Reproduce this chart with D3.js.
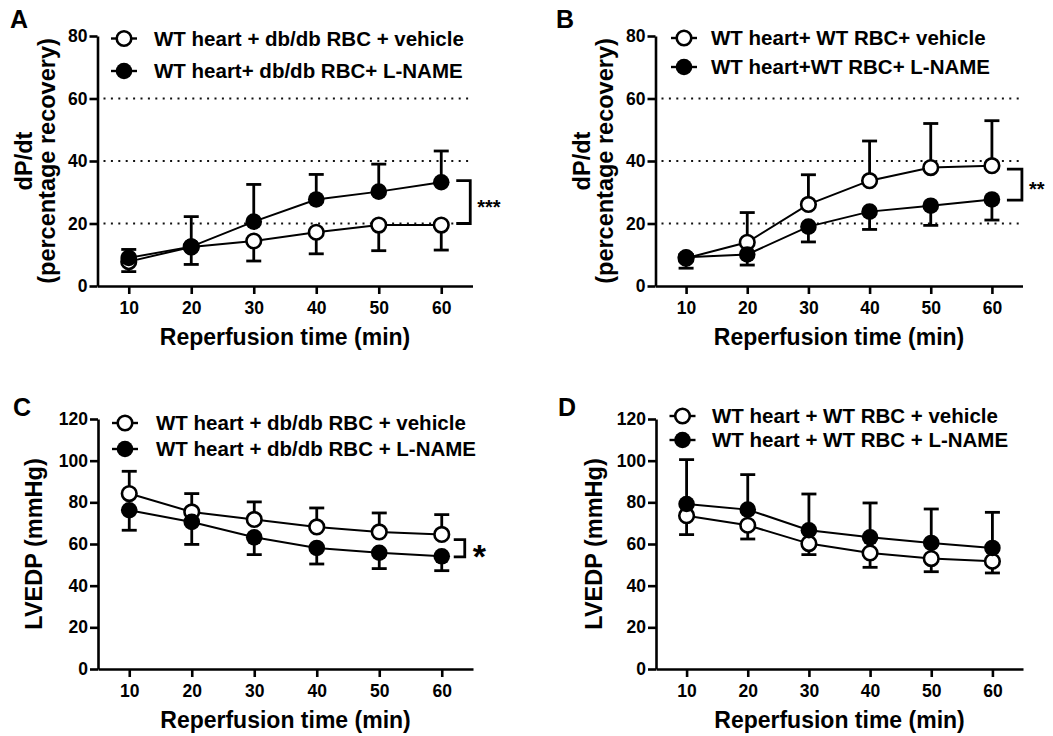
<!DOCTYPE html>
<html>
<head>
<meta charset="utf-8">
<script src="https://cdn.jsdelivr.net/npm/d3@7"></script>
<style>
  body { margin: 0; background: #fff; }
  svg text { font-family: "Liberation Sans", Arial, sans-serif; font-weight: bold; fill: #000; }
</style>
</head>
<body>
<div id="chart"></div>
<script>
// reperfusion time points (min)
const times = [10, 20, 30, 40, 50, 60];
const dpTicks = [0, 20, 40, 60, 80];
const dpGrid = [20, 40, 60];
const lvTicks = [0, 20, 40, 60, 80, 100, 120];

// A: WT heart + db/db RBC
const aVehicle    = [7.8, 12.5, 14.4, 17.2, 19.5, 19.5];
const aVehicleErr = [3.2, 5.6, 6.4, 6.9, 8.2, 8.0];
const aLname      = [9.0, 12.6, 20.6, 27.7, 30.2, 33.2];
const aLnameErr   = [2.7, 9.6, 11.9, 8.0, 8.8, 10.0];

// B: WT heart + WT RBC
const bVehicle    = [8.9, 14.0, 26.1, 33.7, 37.9, 38.5];
const bVehicleErr = [1.2, 9.5, 9.5, 12.7, 14.1, 14.4];
const bLname      = [9.2, 10.1, 19.0, 23.8, 25.7, 27.7];
const bLnameErr   = [3.5, 3.4, 4.9, 5.7, 6.3, 6.6];

// C: LVEDP, db/db RBC
const cVehicle    = [84.2, 75.4, 71.8, 68.2, 65.8, 64.6];
const cVehicleErr = [10.7, 8.8, 8.4, 9.1, 9.1, 9.5];
const cLname      = [76.2, 70.6, 63.2, 58.1, 55.8, 54.1];
const cLnameErr   = [9.6, 10.8, 8.3, 7.7, 7.6, 6.9];

// D: LVEDP, WT RBC
const dVehicle    = [73.6, 69.0, 60.2, 55.7, 53.0, 51.7];
const dVehicleErr = [9.1, 6.6, 5.3, 6.9, 6.3, 5.6];
const dLname      = [79.2, 76.5, 66.6, 63.2, 60.5, 58.1];
const dLnameErr   = [21.3, 16.8, 17.4, 16.5, 16.3, 17.1];

const aLabels = ["WT heart + db/db RBC + vehicle", "WT heart+ db/db RBC+ L-NAME"];
const bLabels = ["WT heart+ WT RBC+ vehicle", "WT heart+WT RBC+ L-NAME"];
const cLabels = ["WT heart + db/db RBC + vehicle", "WT heart + db/db RBC + L-NAME"];
const dLabels = ["WT heart + WT RBC + vehicle", "WT heart + WT RBC + L-NAME"];

// significance brackets: [upper value, lower value] at 60 min
const aBracket = [33.7, 20.0];
const bBracket = [37.4, 27.5];
const cBracket = [62.1, 53.8];

const width = 1053, height = 736;

const panels = [
  { letter: "A", lx: 10, ly: 28, left: 97.5, top: 36, w: 375, h: 250, yMax: 80, ticks: dpTicks, grid: dpGrid,
    yTitle: ["dP/dt", "(percentage recovery)"], titleX: [32, 55],
    series: [
      { v: aVehicle, e: aVehicleErr, dir: -1, open: true,  label: aLabels[0] },
      { v: aLname,   e: aLnameErr,   dir: 1,  open: false, label: aLabels[1] }],
    legend: { cx: 124, tx: 154, ys: [38.5, 71] },
    bracket: aBracket, star: "***", starSize: 20, capOff: 15, barOff: 29, starOff: 36 },
  { letter: "B", lx: 556, ly: 28, left: 655.5, top: 36, w: 367, h: 250, yMax: 80, ticks: dpTicks, grid: dpGrid,
    yTitle: ["dP/dt", "(percentage recovery)"], titleX: [590, 613],
    series: [
      { v: bVehicle, e: bVehicleErr, dir: 1,  open: true,  label: bLabels[0] },
      { v: bLname,   e: bLnameErr,   dir: -1, open: false, label: bLabels[1] }],
    legend: { cx: 684, tx: 711, ys: [38, 67] },
    bracket: bBracket, star: "**", starSize: 20, capOff: 15, barOff: 30, starOff: 37 },
  { letter: "C", lx: 13, ly: 416, left: 98, top: 419, w: 375, h: 250, yMax: 120, ticks: lvTicks, grid: [],
    yTitle: ["LVEDP (mmHg)"], titleX: [42],
    series: [
      { v: cVehicle, e: cVehicleErr, dir: 1,  open: true,  label: cLabels[0] },
      { v: cLname,   e: cLnameErr,   dir: -1, open: false, label: cLabels[1] }],
    legend: { cx: 125, tx: 156, ys: [423, 449] },
    bracket: cBracket, star: "*", starSize: 34, capOff: 12, barOff: 23, starOff: 31 },
  { letter: "D", lx: 558, ly: 416, left: 656, top: 419, w: 367, h: 250, yMax: 120, ticks: lvTicks, grid: [],
    yTitle: ["LVEDP (mmHg)"], titleX: [602],
    series: [
      { v: dVehicle, e: dVehicleErr, dir: -1, open: true,  label: dLabels[0] },
      { v: dLname,   e: dLnameErr,   dir: 1,  open: false, label: dLabels[1] }],
    legend: { cx: 682.5, tx: 712, ys: [416, 440] },
    bracket: null }
];

const svg = d3.select("#chart").append("svg")
  .attr("width", width)
  .attr("height", height);

svg.append("rect").attr("width", width).attr("height", height).attr("fill", "#fff");

const capW = 15;
const rFill = 8.3, rOpen = 7.3;

function drawMarker(g, cx, cy, open) {
  g.append("circle")
    .attr("cx", cx).attr("cy", cy)
    .attr("r", open ? rOpen : rFill)
    .attr("fill", open ? "#fff" : "#000")
    .attr("stroke", "#000")
    .attr("stroke-width", open ? 2.6 : 0);
}

panels.forEach(p => {
  const g = svg.append("g");
  const bottom = p.top + p.h;

  const x = d3.scaleLinear().domain([5, 65]).range([p.left, p.left + p.w]);
  const y = d3.scaleLinear().domain([0, p.yMax]).range([bottom, p.top]);

  // dotted reference lines
  g.selectAll(".grid")
    .data(p.grid)
    .join("line")
    .attr("x1", p.left + 6).attr("x2", p.left + p.w)
    .attr("y1", d => y(d)).attr("y2", d => y(d))
    .attr("stroke", "#111")
    .attr("stroke-width", 2)
    .attr("stroke-dasharray", "2,5.4");

  // axes
  const yAxis = g.append("g")
    .attr("transform", `translate(${p.left},0)`)
    .call(d3.axisLeft(y).tickValues(p.ticks).tickSize(8).tickSizeOuter(0).tickPadding(2));
  const xAxis = g.append("g")
    .attr("transform", `translate(0,${bottom})`)
    .call(d3.axisBottom(x).tickValues(times).tickSize(8).tickSizeOuter(0).tickPadding(8));

  [yAxis, xAxis].forEach(a => {
    a.selectAll("path, line").attr("stroke", "#000").attr("stroke-width", 2.6);
    a.selectAll("text").attr("font-size", 17.5).attr("fill", "#000");
  });

  // error bars (one-sided)
  p.series.forEach(s => {
    const eb = g.append("g");
    times.forEach((t, i) => {
      const yEnd = y(s.v[i] + s.dir * s.e[i]);
      eb.append("line")
        .attr("x1", x(t)).attr("x2", x(t))
        .attr("y1", y(s.v[i])).attr("y2", yEnd)
        .attr("stroke", "#000").attr("stroke-width", 2.8);
      eb.append("line")
        .attr("x1", x(t) - capW / 2).attr("x2", x(t) + capW / 2)
        .attr("y1", yEnd).attr("y2", yEnd)
        .attr("stroke", "#000").attr("stroke-width", 2.8);
    });
  });

  // connecting lines
  const line = d3.line().x((d, i) => x(times[i])).y(d => y(d));
  p.series.forEach(s => {
    g.append("path")
      .datum(s.v)
      .attr("d", line)
      .attr("fill", "none")
      .attr("stroke", "#000")
      .attr("stroke-width", 2);
  });

  // markers
  p.series.forEach(s => {
    times.forEach((t, i) => drawMarker(g, x(t), y(s.v[i]), s.open));
  });

  // legend
  p.series.forEach((s, i) => {
    const ly = p.legend.ys[i];
    g.append("line")
      .attr("x1", p.legend.cx - 13).attr("x2", p.legend.cx + 13)
      .attr("y1", ly).attr("y2", ly)
      .attr("stroke", "#000").attr("stroke-width", 2.4);
    drawMarker(g, p.legend.cx, ly, s.open);
    g.append("text")
      .attr("x", p.legend.tx)
      .attr("y", ly + 7.3)
      .attr("font-size", 20.5)
      .text(s.label);
  });

  // significance bracket
  if (p.bracket) {
    const xl = x(60) + p.capOff, xr = x(60) + p.barOff;
    const y1 = y(p.bracket[0]), y2 = y(p.bracket[1]);
    g.append("path")
      .attr("d", `M${xl},${y1}H${xr}V${y2}H${xl}`)
      .attr("fill", "none")
      .attr("stroke", "#000")
      .attr("stroke-width", 2.8);
    g.append("text")
      .attr("x", x(60) + p.starOff)
      .attr("y", (y1 + y2) / 2 + p.starSize * 0.58)
      .attr("font-size", p.starSize)
      .text(p.star);
  }

  // axis titles
  g.append("text")
    .attr("x", p.left + p.w / 2)
    .attr("y", bottom + 59)
    .attr("text-anchor", "middle")
    .attr("font-size", 23)
    .text("Reperfusion time (min)");

  p.yTitle.forEach((t, i) => {
    g.append("text")
      .attr("transform", `translate(${p.titleX[i]},${p.top + p.h / 2}) rotate(-90)`)
      .attr("text-anchor", "middle")
      .attr("font-size", 23.5)
      .text(t);
  });

  // panel letter
  g.append("text")
    .attr("x", p.lx)
    .attr("y", p.ly)
    .attr("font-size", 25)
    .text(p.letter);
});
</script>
</body>
</html>
